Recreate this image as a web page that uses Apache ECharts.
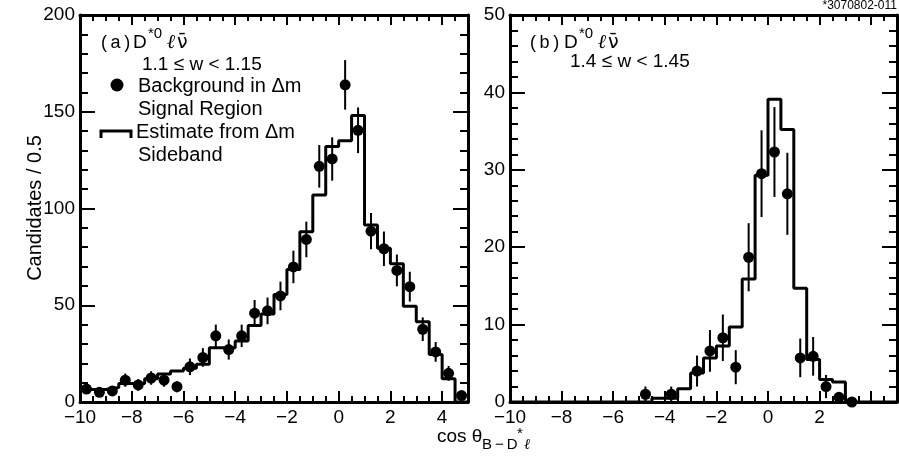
<!DOCTYPE html>
<html><head><meta charset="utf-8">
<script src="https://cdn.jsdelivr.net/npm/echarts@6/dist/echarts.min.js"></script>
<style>html,body{margin:0;padding:0;background:#fff}#c{width:899px;height:464px}</style>
</head><body><div id="c"></div><script>
// ---- data ----
const binEdges = [-10,-9.5,-9,-8.5,-8,-7.5,-7,-6.5,-6,-5.5,-5,-4.5,-4,-3.5,-3,-2.5,-2,-1.5,-1,-0.5,0,0.5,1,1.5,2,2.5,3,3.5,4,4.5,5];
const binCenters = [-9.75,-9.25,-8.75,-8.25,-7.75,-7.25,-6.75,-6.25,-5.75,-5.25,-4.75,-4.25,-3.75,-3.25,-2.75,-2.25,-1.75,-1.25,-0.75,-0.25,0.25,0.75,1.25,1.75,2.25,2.75,3.25,3.75,4.25,4.75];
// panel (a): sideband estimate histogram (per bin), signal-region points and errors
const histA = [6.5,6.5,7.5,9.5,9.5,12,14.5,16,17.5,19.5,28,28,31.5,39.5,45.5,55.5,68.5,88,107,132,135,148,91.5,79.5,71.5,49.5,41.5,24.5,12,0];
const ptsA  = [6.7,5,5.7,11.3,8.8,12.4,11.3,7.9,18.2,23,34.2,27.1,34.2,45.9,47.1,54.8,69.8,84,121.8,125.6,163.9,140.4,88.3,79.2,68,59.6,37.6,25.9,14.8,3.3];
const errA  = [2.6,2.2,2.4,3.4,3,3.5,3.4,2.8,4.3,4.8,5.8,5.2,5.8,6.8,6.9,7.4,8.4,9.2,11,11.2,12.8,11.8,9.4,8.9,8.2,7.7,6.1,5.1,3.8,1.8];
// panel (b)
const histB = [0,0,0,0,0,0,0,0,0,0,0,0.5,0.5,1.7,3.75,5.7,7.25,9.7,15.9,29.3,39.1,35.2,14.7,5.5,2.9,2.6,0,0,0,0];
const centersB = [-4.75,-3.75,-2.75,-2.25,-1.75,-1.25,-0.75,-0.25,0.25,0.75,1.25,1.75,2.25,2.75,3.25];
const ptsB  = [1.0,1.0,4.0,6.6,8.3,4.5,18.7,29.5,32.3,26.9,5.7,5.9,2.0,0.6,0];
const errB  = [1.0,1.0,2.0,2.7,3.0,2.2,4.4,5.6,5.8,5.3,2.5,2.5,1.5,0.6,0];
// tick labels
const xTickValues = [-10,-8,-6,-4,-2,0,2,4];
const xTickLabelsA = ['\u221210','\u22128','\u22126','\u22124','\u22122','0','2','4'];
const xTickLabelsB = ['\u221210','\u22128','\u22126','\u22124','\u22122','0','2',''];
const yTickValuesA = [0,50,100,150,200];
const yTickLabelsA = ['0','50','100','150','200'];
const yTickValuesB = [0,10,20,30,40,50];
const yTickLabelsB = ['0','10','20','30','40','50'];
const yTitle = 'Candidates / 0.5';

// ---- chart ----
const FF = 'Liberation Sans, Arial, Helvetica, sans-serif';
const BLACK = '#000';
function lookup(vals, labels){ return v => { const i = vals.indexOf(v); return i >= 0 ? labels[i] : ''; }; }

function xAxesFor(grid, labels){
  const base = {type:'value', gridIndex:grid, min:-10, max:5, splitLine:{show:false}};
  return [
    Object.assign({}, base, {position:'bottom', interval:2,
      axisLine:{show:true, onZero:false, lineStyle:{color:BLACK, width:3}},
      axisTick:{show:true, inside:true, length:11, lineStyle:{color:BLACK, width:2}},
      axisLabel:{show:true, margin:6, color:BLACK, fontSize:19, fontFamily:FF, formatter:lookup(xTickValues, labels), showMaxLabel:false}}),
    Object.assign({}, base, {position:'bottom', interval:0.5,
      axisLine:{show:false, onZero:false},
      axisTick:{show:true, inside:true, length:6, lineStyle:{color:BLACK, width:2}},
      axisLabel:{show:false}}),
    Object.assign({}, base, {position:'top', interval:2,
      axisLine:{show:true, onZero:false, lineStyle:{color:BLACK, width:3}},
      axisTick:{show:true, inside:true, length:10, lineStyle:{color:BLACK, width:2}},
      axisLabel:{show:false}}),
    Object.assign({}, base, {position:'top', interval:0.5,
      axisLine:{show:false, onZero:false},
      axisTick:{show:true, inside:true, length:6, lineStyle:{color:BLACK, width:2}},
      axisLabel:{show:false}})
  ];
}
function yAxesFor(grid, max, interval, vals, labels){
  const common = {type:'value', gridIndex:grid, min:0, max:max, interval:interval, splitLine:{show:false},
    axisLine:{show:true, onZero:false, lineStyle:{color:BLACK, width:3}},
    axisTick:{show:true, inside:true, length:15, lineStyle:{color:BLACK, width:2}},
    minorTick:{show:true, splitNumber:5, length:8, lineStyle:{color:BLACK, width:2}}};
  const left = Object.assign({}, common, {position:'left',
    axisLabel:{show:true, margin:5, color:BLACK, fontSize:19, fontFamily:FF, formatter:lookup(vals, labels)}});
  const right = Object.assign({}, common, {position:'right', axisLabel:{show:false}});
  return [left, right];
}

function stepData(hist){ return binEdges.map((e,i) => [e, hist[Math.min(i, hist.length-1)]]); }
function errRender(params, api){
  const x = api.value(0), y = api.value(1), e = api.value(2);
  const p1 = api.coord([x, y - e]), p2 = api.coord([x, y + e]);
  return {type:'line', shape:{x1:p1[0], y1:p1[1], x2:p2[0], y2:p2[1]}, style:{stroke:BLACK, lineWidth:2}};
}
function panelSeries(xi, yi, hist, centers, pts, errs){
  return [
    {type:'line', xAxisIndex:xi, yAxisIndex:yi, data:stepData(hist), step:'end', showSymbol:false, symbol:'none',
     lineStyle:{color:BLACK, width:3}, z:2, animation:false, clip:true},
    {type:'custom', xAxisIndex:xi, yAxisIndex:yi, renderItem:errRender, encode:{x:0, y:1},
     data:centers.map((c,i) => [c, pts[i], errs[i]]), z:3, animation:false, clip:false},
    {type:'scatter', xAxisIndex:xi, yAxisIndex:yi, data:centers.map((c,i) => [c, pts[i]]),
     symbol:'circle', symbolSize:11, itemStyle:{color:BLACK, opacity:1}, z:4, animation:false, clip:false}
  ];
}

function txt(x, y, text, size, extra){
  return {type:'text', x:x, y:y, silent:true, style:Object.assign({text:text, fill:BLACK, fontSize:size, fontFamily:FF,
    textAlign:'left', align:'left', textVerticalAlign:'middle', verticalAlign:'middle'}, extra || {})};
}
function decayLabel(x0, y, letter, dx){
  return [
    txt(x0, y, '(\u2009' + letter + '\u2009)', 18),
    txt(x0 + dx, y, 'D', 19),
    txt(x0 + dx + 15, y - 9, '*0', 15),
    txt(x0 + dx + 34, y, '\u2113', 20, {fontWeight:'bold', fontStyle:'italic', fontFamily:'DejaVu Serif, serif'}),
    txt(x0 + dx + 44, y, '\u03BD\u0304', 19, {fontFamily:'DejaVu Sans, sans-serif'})
  ];
}

const yTitleEl = txt(35, 208, yTitle, 20, {textAlign:'center', align:'center'});
yTitleEl.rotation = Math.PI / 2;

const graphic = [].concat(
  [yTitleEl],
  decayLabel(101, 43, 'a', 32),
  [
    txt(142, 65, '1.1 \u2264 w < 1.15', 19),
    {type:'circle', shape:{cx:117, cy:85, r:6.5}, style:{fill:BLACK}, silent:true},
    txt(138, 86, 'Background in \u0394m', 20),
    txt(138, 109, 'Signal Region', 20),
    {type:'polyline', shape:{points:[[101,138],[101,131],[131,131],[131,138]]}, style:{stroke:BLACK, lineWidth:3, fill:null}, silent:true},
    txt(136, 132, 'Estimate from \u0394m', 20),
    txt(138, 155, 'Sideband', 20)
  ],
  decayLabel(530, 43, 'b', 34),
  [
    txt(570, 62, '1.4 \u2264 w < 1.45', 19),
    txt(897, 6, '*3070802-011', 12, {textAlign:'right', align:'right'}),
    txt(437, 437, 'cos \u03B8', 19),
    txt(482, 445, 'B\u2009\u2212\u2009D', 15),
    txt(517, 434, '*', 15),
    txt(524, 445, '\u2113', 15, {fontStyle:'italic', fontFamily:'DejaVu Serif, serif'})
  ]
);

const chart = echarts.init(document.getElementById('c'), null, {renderer:'canvas'});
chart.setOption({
  backgroundColor:'#fff',
  animation:false,
  grid:[
    {left:80, top:15, width:388, height:387, containLabel:false},
    {left:510, top:15, width:387, height:387, containLabel:false}
  ],
  xAxis: xAxesFor(0, xTickLabelsA).concat(xAxesFor(1, xTickLabelsB)),
  yAxis: yAxesFor(0, 200, 50, yTickValuesA, yTickLabelsA)
          .concat(yAxesFor(1, 50, 10, yTickValuesB, yTickLabelsB)),
  series: panelSeries(0, 0, histA, binCenters, ptsA, errA)
          .concat(panelSeries(4, 2, histB, centersB, ptsB, errB)),
  graphic: graphic
});
</script></body></html>
